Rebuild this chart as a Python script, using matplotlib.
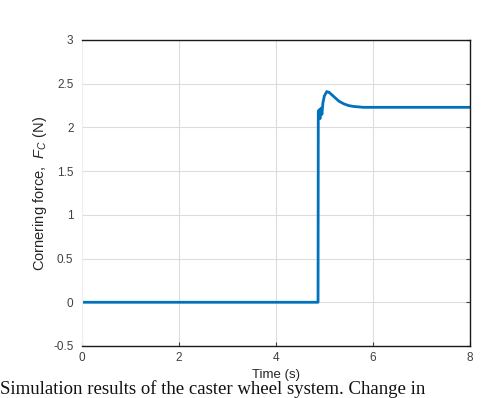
import matplotlib.pyplot as plt

plt.rcParams["font.family"] = "Liberation Sans"
plt.rcParams["mathtext.fontset"] = "custom"
plt.rcParams["mathtext.it"] = "Liberation Sans:italic"
plt.rcParams["mathtext.rm"] = "Liberation Sans"

# Cornering force response
time_s = [0, 4.87, 4.875, 4.89, 4.91, 4.93, 4.95, 4.97, 5.0, 5.05, 5.1, 5.2, 5.3,
          5.4, 5.5, 5.6, 5.8, 6.0, 7.0, 8.0]
force_n = [0, 0, 2.17, 2.20, 2.10, 2.22, 2.15, 2.28, 2.36, 2.41, 2.40, 2.35, 2.30,
           2.27, 2.25, 2.24, 2.23, 2.23, 2.23, 2.23]

x_ticks = [0, 2, 4, 6, 8]
y_ticks = [-0.5, 0, 0.5, 1, 1.5, 2, 2.5, 3]

fig = plt.figure(figsize=(5.02, 3.98), dpi=100)
ax = fig.add_axes([0.163, 0.1307, 0.773, 0.7688])

ax.plot(time_s, force_n, color="#0072BD", linewidth=2)

ax.set_xlim(0, 8)
ax.set_ylim(-0.5, 3)
ax.set_xticks(x_ticks)
ax.set_yticks(y_ticks)
ax.set_xticklabels([str(v) for v in x_ticks])
ax.set_yticklabels(["-0.5", "0", "0.5", "1", "1.5", "2", "2.5", "3"])
ax.grid(True, color="#dcdcdc", linewidth=0.8)
ax.set_axisbelow(True)

for side in ["top", "right", "bottom"]:
    ax.spines[side].set_color("#1a1a1a")
    ax.spines[side].set_linewidth(1.0)
ax.spines["left"].set_color("#eeeeee")

ax.tick_params(direction="in", length=3, labelsize=8.5, labelcolor="#404040",
               colors="#404040", right=True, top=False)
ax.tick_params(axis="y", which="both", left=False, pad=6)
ax.tick_params(axis="x", pad=4)

ax.set_xlabel("Time (s)", fontsize=9.5, color="#262626", labelpad=4)
ax.set_ylabel("Cornering force,  $F_C$ (N)", fontsize=10.5, color="#262626", labelpad=3)

# caption of the source figure, cut at the image's lower edge in the original
fig.text(0.0, 0.001, "Simulation results of the caster wheel system. Change in",
         fontsize=13.5, family="Liberation Serif", va="bottom", ha="left",
         color="#111111")

fig.savefig("out.png", dpi=100)
